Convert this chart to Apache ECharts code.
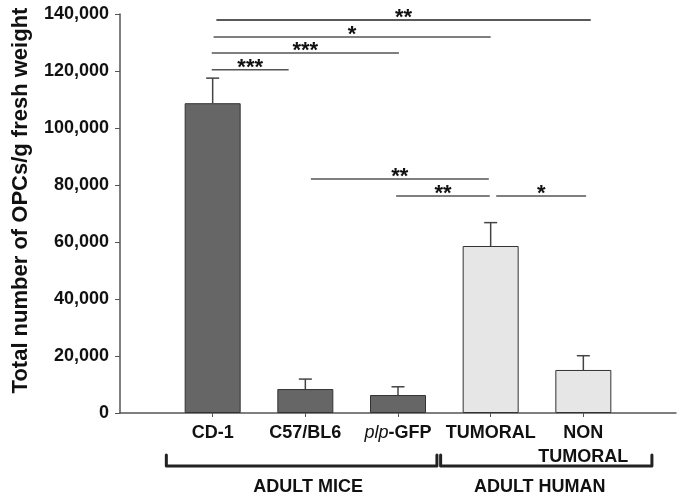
<!DOCTYPE html>
<html><head><meta charset="utf-8">
<script src="https://cdn.jsdelivr.net/npm/echarts@6/dist/echarts.min.js"></script>
<style>html,body{margin:0;padding:0;background:#fff}#c{width:683px;height:500px}</style>
</head><body><div id="c"></div>
<script>
// ---- data ----
const categories = ['', 'CD-1', 'C57/BL6', 'plp-GFP', 'TUMORAL', 'NON\nTUMORAL', ''];
const meanValues = [null, 108700, 8400, 6300, 58600, 15100, null];
const errValues  = [null, 8800, 3500, 2900, 8200, 5000, null];
const barGroup   = [null, 'mice', 'mice', 'mice', 'human', 'human', null];
const yTicks = { min: 0, max: 140000, interval: 20000 };
// significance annotations: start/end in slot units (category centers at 1..5), level value, label
const sigStart = [1.04, 1.01, 0.99, 0.99, 2.06, 2.98, 4.06];
const sigEnd   = [5.08, 4.00, 3.01, 1.82, 3.98, 3.99, 5.03];
const sigLevel = [137900, 131900, 126300, 120400, 82100, 76100, 76100];
const sigLabel = ['**', '*', '***', '***', '**', '**', '*'];
const groupNames = ['ADULT MICE', 'ADULT HUMAN'];
const groupStart = [0.5, 3.46];
const groupEnd   = [3.42, 5.74];
const groupLabelAt = [2.03, 4.53];

const FONT = '"Liberation Sans", Arial, sans-serif';
const colors = { mice: '#666666', human: '#e6e6e6' };

const barData = meanValues.map((v, i) => v == null ? null : {
  value: v, itemStyle: { color: colors[barGroup[i]] }
});
const errData = meanValues.map((v, i) => v == null ? null : [i, v, v + errValues[i]]).filter(d => d);
const sigData = sigStart.map((s, i) => [s, sigEnd[i], sigLevel[i], i]);

const chart = echarts.init(document.getElementById('c'));
const option = {
  animation: false,
  grid: { left: 120, right: 7, top: 14, bottom: 87, containLabel: false },
  xAxis: [{
    type: 'category', data: categories, boundaryGap: false,
    axisLine: { lineStyle: { color: '#555', width: 1.5 } },
    axisTick: { show: true, length: 4, lineStyle: { color: '#555' },
      interval: (idx, val) => val !== '' },
    axisLabel: { interval: 0, margin: 8, color: '#111', fontFamily: FONT, fontWeight: 'bold', fontSize: 18, lineHeight: 24,
      formatter: v => v === 'plp-GFP' ? '{i|plp}-GFP' : v,
      rich: { i: { fontStyle: 'italic', fontWeight: 'normal', fontSize: 18, fontFamily: FONT, color: '#111', lineHeight: 24 } } }
  }, {
    type: 'value', min: 0, max: 6, show: false
  }],
  yAxis: {
    type: 'value', min: yTicks.min, max: yTicks.max, interval: yTicks.interval,
    name: 'Total number of OPCs/g fresh weight', nameLocation: 'middle', nameGap: 88,
    nameTextStyle: { fontFamily: FONT, fontWeight: 'bold', fontSize: 22, color: '#111', padding: [0, 0, 0, 26] },
    splitLine: { show: false },
    axisLine: { show: true, lineStyle: { color: '#555', width: 1.5 } },
    axisTick: { show: true, length: 5, lineStyle: { color: '#555' } },
    axisLabel: { margin: 11, color: '#111', fontFamily: FONT, fontWeight: 'bold', fontSize: 18,
      formatter: v => v.toLocaleString('en-US') }
  },
  series: [{
    type: 'bar', data: barData, barWidth: 56, xAxisIndex: 0,
    itemStyle: { borderColor: '#333', borderWidth: 1 }
  }, {
    type: 'custom', xAxisIndex: 0, data: errData, z: 1,
    renderItem: (params, api) => {
      const x = api.value(0);
      const p0 = api.coord([x, api.value(1)]);
      const p1 = api.coord([x, api.value(2)]);
      return { type: 'group', children: [
        { type: 'line', shape: { x1: p0[0], y1: p0[1], x2: p1[0], y2: p1[1] }, style: { stroke: '#444', lineWidth: 1.5 } },
        { type: 'line', shape: { x1: p1[0] - 6.5, y1: p1[1], x2: p1[0] + 6.5, y2: p1[1] }, style: { stroke: '#444', lineWidth: 1.5 } }
      ]};
    }
  }, {
    type: 'custom', xAxisIndex: 1, data: sigData,
    renderItem: (params, api) => {
      const a = api.coord([api.value(0), api.value(2)]);
      const b = api.coord([api.value(1), api.value(2)]);
      const idx = api.value(3);
      return { type: 'group', children: [
        { type: 'line', shape: { x1: a[0], y1: a[1], x2: b[0], y2: b[1] }, style: { stroke: idx === 0 ? '#222' : '#555', lineWidth: 1.5 } },
        { type: 'text', style: { text: sigLabel[idx], x: (a[0] + b[0]) / 2, y: a[1] - 2, align: 'center', verticalAlign: 'middle',
          font: 'bold 22px ' + FONT, fill: '#111' } }
      ]};
    }
  }]
};
chart.setOption(option);

// group brackets below the axis, positioned through the hidden value axis
const baseY = chart.convertToPixel({ yAxisIndex: 0 }, 0);
const graphics = [];
groupNames.forEach((name, i) => {
  const x1 = chart.convertToPixel({ xAxisIndex: 1 }, groupStart[i]);
  const x2 = chart.convertToPixel({ xAxisIndex: 1 }, groupEnd[i]);
  const xm = chart.convertToPixel({ xAxisIndex: 1 }, groupLabelAt[i]);
  graphics.push({ type: 'polyline', shape: { points: [[x1, baseY + 42], [x1, baseY + 53], [x2, baseY + 53], [x2, baseY + 42]] },
    style: { stroke: '#222', lineWidth: 3, fill: null, lineJoin: 'round', lineCap: 'round' } });
  graphics.push({ type: 'text', x: xm, y: baseY + 74, style: { text: name, align: 'center', verticalAlign: 'middle',
    font: 'bold 18px ' + FONT, fill: '#111' } });
});
chart.setOption({ graphic: graphics });
</script></body></html>
